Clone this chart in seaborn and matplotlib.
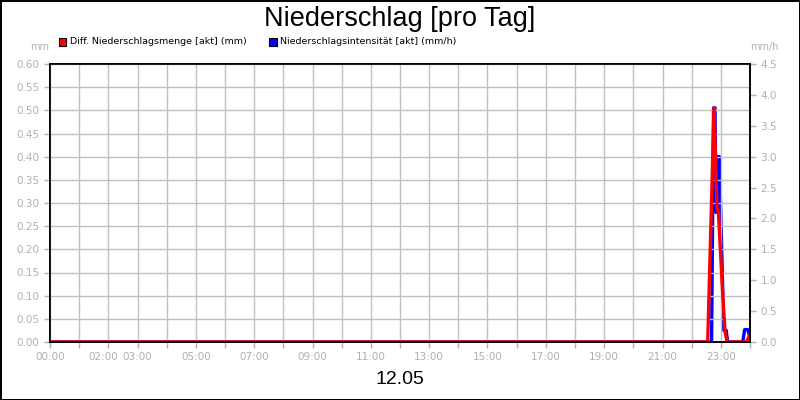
import matplotlib
matplotlib.use("Agg")
import matplotlib.pyplot as plt
import matplotlib.transforms as mtransforms
import seaborn as sns
import pandas as pd

# Diff. Niederschlagsmenge (mm), left axis
menge_zeit = ["00:00", "22:33", "22:46", "22:52", "22:55", "23:04", "23:09", "23:13", "23:52", "24:00"]
menge_wert = [0.0, 0.0, 0.505, 0.29, 0.28, 0.10, 0.02, 0.0, 0.0, 0.015]

# Niederschlagsintensitaet (mm/h), right axis
int_zeit = ["00:00", "22:41", "22:45", "22:48", "22:50", "22:53", "22:54", "22:57", "23:06", "23:11", "23:14", "23:45", "23:49", "23:56", "24:00"]
int_wert = [0.0, 0.0, 3.79, 3.79, 2.1, 2.1, 3.0, 3.0, 0.19, 0.19, 0.0, 0.0, 0.2, 0.2, 0.05]

stunden_labels = ["00:00", "02:00", "03:00", "05:00", "07:00", "09:00", "11:00",
                  "13:00", "15:00", "17:00", "19:00", "21:00", "23:00"]


def to_hours(ts):
    return [int(t[:2]) + int(t[3:]) / 60 for t in ts]


df_menge = pd.DataFrame({"h": to_hours(menge_zeit), "v": menge_wert})
df_int = pd.DataFrame({"h": to_hours(int_zeit), "v": int_wert})

sns.set_style("white")
plt.rcParams["font.family"] = ["DejaVu Sans"]
plt.rcParams["text.color"] = "black"
grau = "#b0b0b0"

fig = plt.figure(figsize=(8, 4), dpi=100, facecolor="white", linewidth=2, edgecolor="black")
ax = fig.add_axes([0.0625, 0.145, 0.875, 0.695])
ax2 = ax.twinx()

sns.lineplot(data=df_int, x="h", y="v", ax=ax2, color="#0000ff", linewidth=2.4)
sns.lineplot(data=df_menge, x="h", y="v", ax=ax, color="#ff0000", linewidth=2.4)

# red on top of blue
ax.set_zorder(ax2.get_zorder() + 1)
ax.patch.set_visible(False)

ax.set_xlim(0, 24)
ax.set_ylim(0, 0.6)
ax2.set_ylim(0, 4.5)

ax.set_xticks(range(0, 25))
ax.set_xticklabels([f"{h:02d}:00" if f"{h:02d}:00" in stunden_labels else "" for h in range(0, 25)])
ax.set_yticks([i * 0.05 for i in range(13)])
ax.set_yticklabels([f"{i * 0.05:.2f}" for i in range(13)])
ax2.set_yticks([i * 0.5 for i in range(10)])
ax2.set_yticklabels([f"{i * 0.5:.1f}" for i in range(10)])

ax.grid(True, color="#c0c0c0", linewidth=1)
ax.set_xlabel("")
ax.set_ylabel("")
ax2.set_ylabel("")

for a in (ax, ax2):
    a.tick_params(axis="both", colors=grau, labelsize=7.5, length=4, width=1, direction="out")
    for s in a.spines.values():
        s.set_color("black")
        s.set_linewidth(1.2)
ax.tick_params(axis="y", left=True)
ax.tick_params(axis="x", bottom=True)
ax2.tick_params(axis="y", right=True)

# 02:00 label sits a bit to the left in the original
lbl = ax.get_xticklabels()[2]
lbl.set_transform(lbl.get_transform() + mtransforms.ScaledTranslation(-5 / 100, 0, fig.dpi_scale_trans))

fig.text(0.5, 0.953, "Niederschlag [pro Tag]", ha="center", va="center", fontsize=19.5,
         color="black", family="Liberation Sans")
fig.text(0.05, 0.882, "mm", ha="center", va="center", fontsize=7, color=grau)
fig.text(0.956, 0.882, "mm/h", ha="center", va="center", fontsize=7, color=grau)
fig.text(0.5, 0.05, "12.05", ha="center", va="center", fontsize=14, color="black",
         family="Liberation Sans")

# legend
fig.patches.append(plt.Rectangle((0.0735, 0.885), 0.0095, 0.02, transform=fig.transFigure,
                                 facecolor="#ff0000", edgecolor="black", linewidth=0.8))
fig.text(0.087, 0.895, "Diff. Niederschlagsmenge [akt] (mm)", ha="left", va="center", fontsize=6.8, color="black")
fig.patches.append(plt.Rectangle((0.3365, 0.885), 0.0095, 0.02, transform=fig.transFigure,
                                 facecolor="#0000ff", edgecolor="black", linewidth=0.8))
fig.text(0.35, 0.895, "Niederschlagsintensität [akt] (mm/h)", ha="left", va="center", fontsize=6.8, color="black")

fig.savefig("out.png", dpi=100, facecolor="white", edgecolor="black")
